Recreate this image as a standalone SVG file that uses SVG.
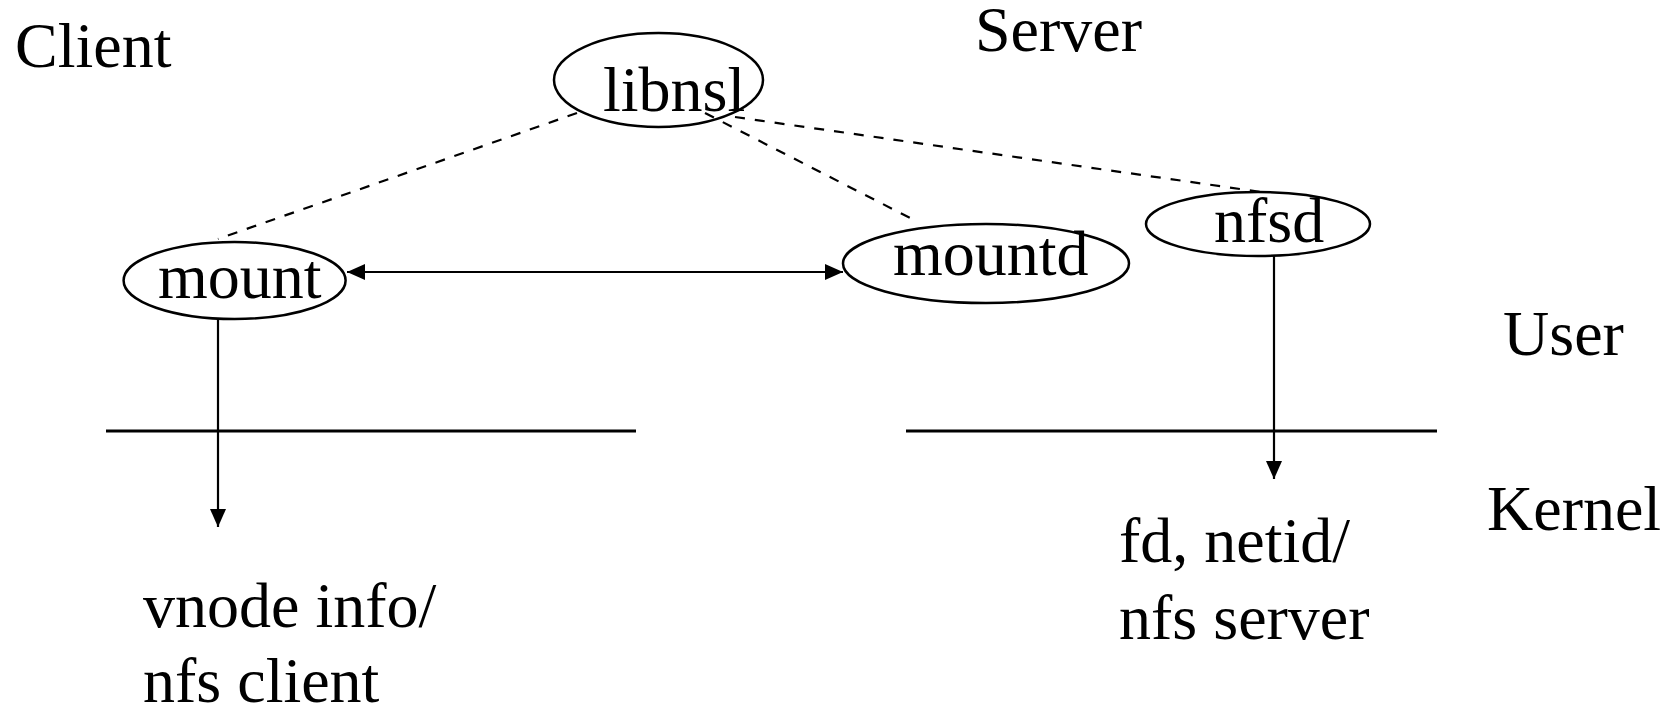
<svg xmlns="http://www.w3.org/2000/svg" width="1670" height="709" viewBox="0 0 1670 709">
<style>
text{font-family:"Liberation Serif","Times New Roman",serif;font-size:64px;fill:#000}
.node ellipse{fill:#fff;stroke:#000;stroke-width:2.5}
.dash{stroke:#000;stroke-width:2.2;stroke-dasharray:10 10;fill:none}
.solid{stroke:#000;stroke-width:2.2;fill:none}
.sep{stroke:#000;stroke-width:2.8}
</style>
<defs>
<marker id="ah" markerUnits="userSpaceOnUse" markerWidth="18" markerHeight="16" refX="18" refY="8" orient="auto-start-reverse">
<path d="M0,0 L18,8 L0,16 z" fill="#000"/>
</marker>
</defs>
<rect width="1670" height="709" fill="#fff"/>
<g id="labels">
<text x="15" y="67">Client</text>
<text x="975" y="51">Server</text>
<text x="1503" y="355">User</text>
<text x="1487" y="530">Kernel</text>
<text x="143" y="627">vnode info/</text>
<text x="143" y="702">nfs client</text>
<text x="1119" y="562">fd, netid/</text>
<text x="1119" y="639">nfs server</text>
</g>
<g id="separators">
<line class="sep" x1="106" y1="431" x2="636" y2="431"/>
<line class="sep" x1="906" y1="431" x2="1437" y2="431"/>
</g>
<g id="node-libnsl" class="node">
<ellipse cx="658.5" cy="80" rx="104.5" ry="47"/>
</g>
<g id="node-mount" class="node">
<ellipse cx="234.6" cy="280.5" rx="111" ry="38.5"/>
<text x="158" y="298">mount</text>
</g>
<g id="node-mountd" class="node">
<ellipse cx="986" cy="263.5" rx="143" ry="39.5"/>
<text x="893" y="275">mountd</text>
</g>
<g id="node-nfsd" class="node">
<ellipse cx="1258" cy="224" rx="112" ry="32"/>
<text x="1214" y="242">nfsd</text>
</g>
<g id="connectors">
<line class="dash" x1="577" y1="113" x2="218" y2="239"/>
<line class="dash" x1="705" y1="113" x2="914" y2="220"/>
<line class="dash" x1="735" y1="117" x2="1261" y2="192"/>
<line class="solid" x1="347" y1="272" x2="843" y2="272" marker-start="url(#ah)" marker-end="url(#ah)"/>
<line class="solid" x1="218" y1="319" x2="218" y2="527" marker-end="url(#ah)"/>
<line class="solid" x1="1274" y1="256" x2="1274" y2="479" marker-end="url(#ah)"/>
</g>
<g id="node-libnsl-label">
<text x="603" y="111">libnsl</text>
</g>
</svg>
